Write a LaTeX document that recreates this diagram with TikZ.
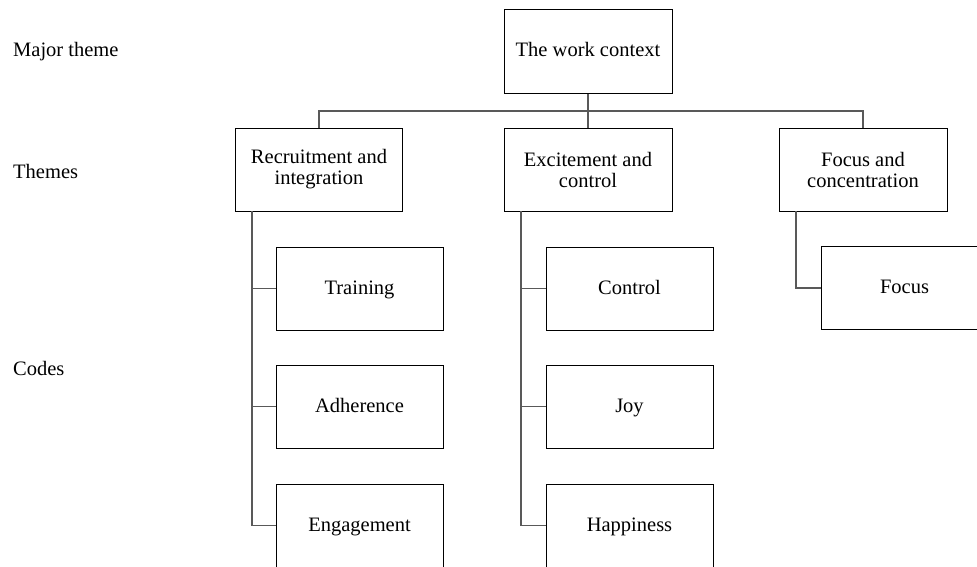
\documentclass[tikz,border=0pt]{standalone}
\usepackage{fontspec}
\setmainfont{Liberation Serif}
\begin{document}
\begin{tikzpicture}[x=1pt,y=-1pt,
  box/.style={draw=black,line width=1pt,rectangle,minimum width=167pt,minimum height=83pt,inner sep=0pt,align=center,font=\fontsize{20.5}{21}\selectfont},
  code/.style={box,text height=14pt,text depth=3pt},
  lvl/.style={anchor=base west,inner sep=0pt,font=\fontsize{20.5}{21}\selectfont},
  conn/.style={draw=black!65,line width=1.5pt}]
\useasboundingbox (0,0) rectangle (977,566);
\clip (0,0) rectangle (977,566);
% level labels
\node[lvl] (lmaj) at (13,56) {Major theme};
\node[lvl] (lthm) at (13,178) {Themes};
\node[lvl] (lcod) at (13,375) {Codes};
% boxes
\node[code,minimum width=168pt,minimum height=84pt] (top) at (588,51) {The work context};
\node[box] (rec) at (319,169.5) {Recruitment and\\integration};
\node[box,minimum width=168pt] (exc) at (588,169.5) {Excitement and\\control};
\node[box,minimum width=168pt] (foc) at (863,169.5) {Focus and\\concentration};
\node[code] (tra) at (359.5,288.5) {Training};
\node[code] (adh) at (359.5,406.5) {Adherence};
\node[code] (eng) at (359.5,525.5) {Engagement};
\node[code] (con) at (629.5,288.5) {Control};
\node[code] (joy) at (629.5,406.5) {Joy};
\node[code] (hap) at (629.5,525.5) {Happiness};
\node[code] (fcs) at (904.5,288) {Focus};
% connectors
\coordinate (bus) at (588,111);
\coordinate (rs) at (252,211);
\coordinate (es) at (521,211);
\coordinate (fs) at (796,211);
\draw[conn] (top.south) -- (bus);
\draw[conn] (rec.north) -- (rec.north |- bus) -- (foc.north |- bus) -- (foc.north);
\draw[conn] (exc.north) -- (exc.north |- bus);
\draw[conn] (rs) |- (tra.west);
\draw[conn] (rs) |- (adh.west);
\draw[conn] (rs) |- (eng.west);
\draw[conn] (es) |- (con.west);
\draw[conn] (es) |- (joy.west);
\draw[conn] (es) |- (hap.west);
\draw[conn] (fs) |- (fcs.west);
\end{tikzpicture}
\end{document}
